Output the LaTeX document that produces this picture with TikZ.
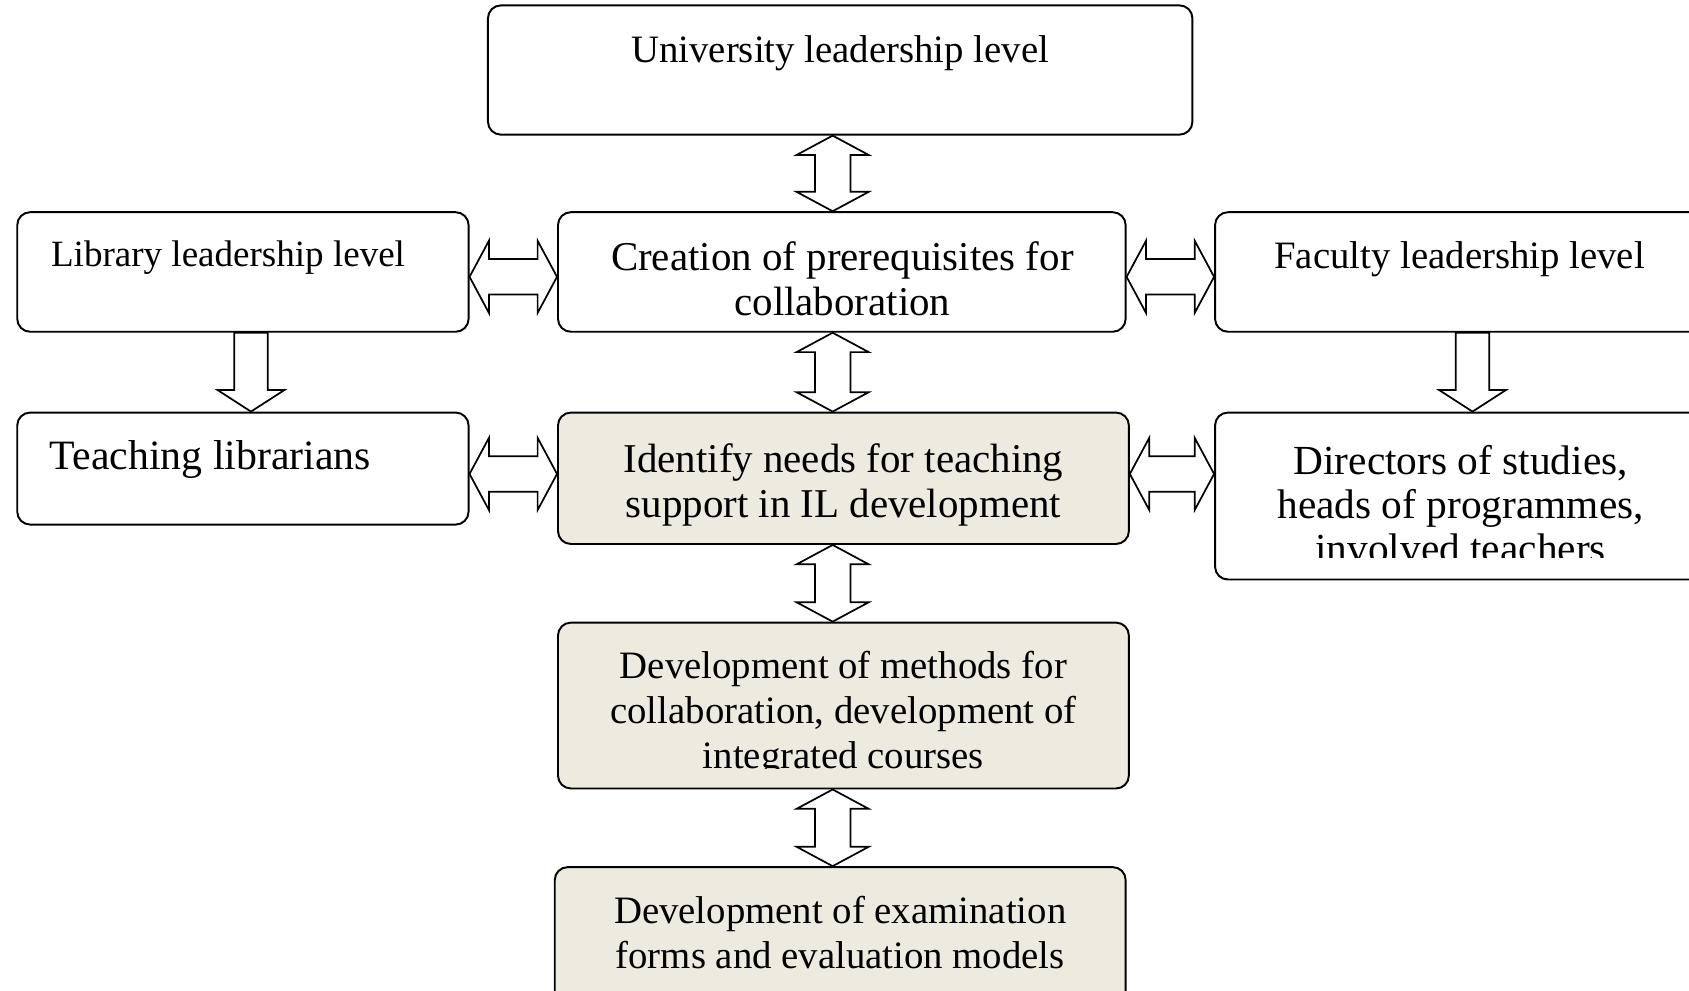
\documentclass[tikz,border=0pt]{standalone}
\usepackage{fontspec}
\setmainfont{Liberation Serif}
\usetikzlibrary{calc}
\definecolor{beige}{HTML}{EDEAE0}
\tikzset{
  box/.style={draw=black, line width=0.9pt, rounded corners=6pt, inner sep=0pt, fill=white},
  shaded/.style={box, fill=beige},
  arr/.style={draw=black, line width=0.8pt, fill=white, line join=miter},
  txt/.style={inner sep=0pt, align=center},
  ltxt/.style={inner sep=0pt, anchor=west, align=left},
}
\newcommand\vdarrow[2]{%
  \path[arr] let \p1=(#1), \p2=(#2) in
  (\x1,\y1) -- (\x1+16.75pt,\y1-9pt) -- (\x1+8.25pt,\y1-9pt) -- (\x1+8.25pt,\y2+9pt) -- (\x1+16.75pt,\y2+9pt) -- (\x1,\y2) -- (\x1-16.75pt,\y2+9pt) -- (\x1-8.25pt,\y2+9pt) -- (\x1-8.25pt,\y1-9pt) -- (\x1-16.75pt,\y1-9pt) -- cycle;}
\newcommand\hdarrow[2]{%
  \path[arr] let \p1=(#1), \p2=(#2) in
  (\x1,\y1) -- (\x1+9pt,\y1+16.75pt) -- (\x1+9pt,\y1+8.25pt) -- (\x2-9pt,\y1+8.25pt) -- (\x2-9pt,\y1+16.75pt) -- (\x2,\y1) -- (\x2-9pt,\y1-16.75pt) -- (\x2-9pt,\y1-8.25pt) -- (\x1+9pt,\y1-8.25pt) -- (\x1+9pt,\y1-16.75pt) -- cycle;}
\newcommand\sdarrow[2]{%
  \path[arr] let \p1=(#1), \p2=(#2) in
  (\x1-7.75pt,\y1) -- (\x1+7.75pt,\y1) -- (\x1+7.75pt,\y2+10pt) -- (\x1+15.5pt,\y2+10pt) -- (\x1,\y2) -- (\x1-15.5pt,\y2+10pt) -- (\x1-7.75pt,\y2+10pt) -- cycle;}
\begin{document}
\begin{tikzpicture}[x=0.5pt,y=-0.5pt]
\useasboundingbox (0,0) rectangle (1568,920);
\clip (0,0) rectangle (1568,920);
\fill[white] (0,0) rectangle (1568,920);
% boxes
\node[box, minimum width=327pt, minimum height=60pt] (univ) at (780,65) {};
\node[box, minimum width=209.5pt, minimum height=55.5pt] (lib) at (225.5,252.5) {};
\node[box, minimum width=263.5pt, minimum height=55.5pt] (crea) at (781.5,252.5) {};
\node[box, minimum width=231pt, minimum height=55.5pt] (fac) at (1359,252.5) {};
\node[box, minimum width=209.5pt, minimum height=52pt] (teach) at (225.5,435) {};
\node[shaded, minimum width=265pt, minimum height=61pt] (ident) at (783,444) {};
\node[box, minimum width=231pt, minimum height=77.5pt] (dir) at (1359,460.5) {};
\node[shaded, minimum width=265pt, minimum height=77pt] (meth) at (783,655) {};
\node[shaded, minimum width=265pt, minimum height=65pt] (exam) at (780,870) {};
% texts
\node[txt, font=\fontsize{18pt}{21pt}\selectfont] (tuniv) at (780,49) {University leadership level};
\node[ltxt, font=\fontsize{17.2pt}{21pt}\selectfont] (tlib) at (47,239) {Library leadership level};
\node[txt, font=\fontsize{19pt}{21pt}\selectfont] (tcrea) at (782,259) {Creation of prerequisites for\\collaboration};
\node[txt, font=\fontsize{18pt}{21pt}\selectfont] (tfac) at (1355,241) {Faculty leadership level};
\node[ltxt, font=\fontsize{19.4pt}{21pt}\selectfont] (tteach) at (46,427) {Teaching librarians};
\node[txt, font=\fontsize{19pt}{21pt}\selectfont] (tident) at (783,450) {Identify needs for teaching\\support in IL development};
\begin{scope}
\clip (1130,385) rectangle (1566,518);
\node[txt, font=\fontsize{19.2pt}{20.5pt}\selectfont] (tdir) at (1356,468) {Directors of studies,\\heads of programmes,\\involved teachers};
\end{scope}
\begin{scope}
\clip (520,580) rectangle (1046,713);
\node[txt, font=\fontsize{18pt}{21pt}\selectfont] (tmeth) at (783,663) {Development of methods for\\collaboration, development of\\integrated courses};
\end{scope}
\node[txt, font=\fontsize{18pt}{21pt}\selectfont] (texam) at (780,866) {Development of examination\\forms and evaluation models};
% arrow guide coordinates
\coordinate (ax) at (773,0);
\coordinate (ay1) at (0,257);
\coordinate (ay2) at (0,440);
\coordinate (lx) at (233,0);
\coordinate (rx) at (1367,0);
% vertical double arrows
\vdarrow{univ.south -| ax}{crea.north -| ax}
\vdarrow{crea.south -| ax}{ident.north -| ax}
\vdarrow{ident.south -| ax}{meth.north -| ax}
\vdarrow{meth.south -| ax}{exam.north -| ax}
% horizontal double arrows
\hdarrow{lib.east |- ay1}{crea.west |- ay1}
\hdarrow{crea.east |- ay1}{fac.west |- ay1}
\hdarrow{teach.east |- ay2}{ident.west |- ay2}
\hdarrow{ident.east |- ay2}{dir.west |- ay2}
% single down arrows
\sdarrow{lib.south -| lx}{teach.north -| lx}
\sdarrow{fac.south -| rx}{dir.north -| rx}
\end{tikzpicture}
\end{document}
